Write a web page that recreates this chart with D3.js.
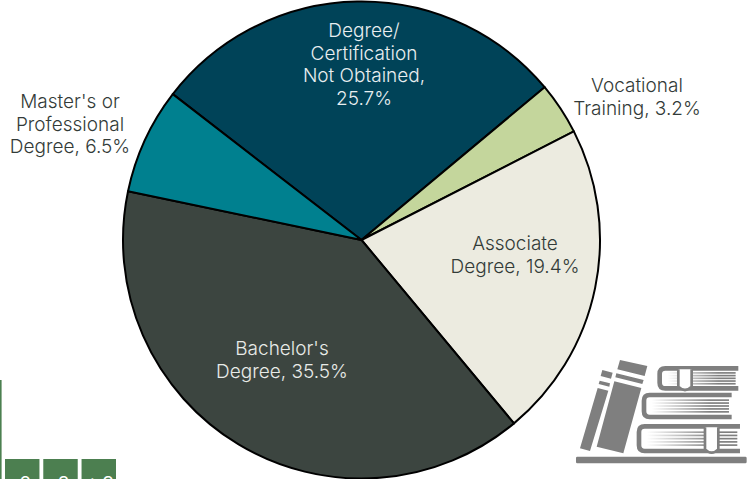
<!DOCTYPE html>
<html>
  <head>
    <meta charset="utf-8" />
    <style>
      body {
        margin: 0;
        background: #fff;
      }
      svg {
        display: block;
      }
      text {
        font-family: "Inter", "Lato", sans-serif;
        font-weight: 300;
        font-size: 19px;
      }
    </style>
    <script src="https://d3js.org/d3.v7.min.js"></script>
  </head>
  <body>
    <div id="chart"></div>
    <script type="text/javascript">
      // chart values, clockwise from the top slice
      var categories = [
        "Degree/ Certification Not Obtained",
        "Vocational Training",
        "Associate Degree",
        "Bachelor's Degree",
        "Master's or Professional Degree",
      ];
      var shares = [25.7, 3.2, 19.4, 35.5, 6.5];
      var labelLines = [
        ["Degree/", "Certification", "Not Obtained,", "25.7%"],
        ["Vocational", "Training, 3.2%"],
        ["Associate", "Degree, 19.4%"],
        ["Bachelor's", "Degree, 35.5%"],
        ["Master's or", "Professional", "Degree, 6.5%"],
      ];
      var sliceColors = ["#004358", "#c4d69c", "#ecebe0", "#3c4540", "#00808f"];
      var labelColors = ["#e8eef0", "#333b38", "#333b38", "#e8ebe8", "#333b38"];

      // label centres, x and first baseline
      var labelAnchors = [
        [364, 37],
        [637, 92],
        [515, 250],
        [282, 355],
        [70, 108],
      ];
      var lineHeight = 22.6;

      var w = 756;
      var h = 479;
      var cx = 361.5;
      var cy = 240;
      var r = 238.5;

      var svg = d3
        .select("#chart")
        .append("svg")
        .attr("width", w)
        .attr("height", h);

      // bits of the next slide's table that stick out at the bottom left
      var stubLabels = ["2", "3", ">3"];
      var stubX = d3.scaleBand().domain(stubLabels).range([5, 116]).paddingInner(0.1);
      svg
        .append("rect")
        .attr("x", 0)
        .attr("y", 380)
        .attr("width", 1.6)
        .attr("height", 99)
        .attr("fill", "#4c8050");
      svg
        .selectAll("rect.stub")
        .data(stubLabels)
        .enter()
        .append("rect")
        .attr("class", "stub")
        .attr("x", function (d) {
          return stubX(d);
        })
        .attr("y", 459)
        .attr("width", stubX.bandwidth())
        .attr("height", 20)
        .attr("fill", "#4c7f50");
      svg
        .selectAll("text.stub")
        .data(stubLabels)
        .enter()
        .append("text")
        .attr("class", "stub")
        .attr("x", function (d) {
          return stubX(d) + stubX.bandwidth() / 2 + 3;
        })
        .attr("y", 490)
        .attr("text-anchor", "middle")
        .attr("fill", "#fff")
        .style("font-weight", 400)
        .text(function (d) {
          return d;
        });

      // pie, the slices are normalised so they fill the circle
      var pie = d3
        .pie()
        .sort(null)
        .startAngle((-52.3 * Math.PI) / 180)
        .endAngle((307.7 * Math.PI) / 180);
      var arc = d3.arc().innerRadius(0).outerRadius(r);

      svg
        .append("g")
        .attr("transform", "translate(" + cx + "," + cy + ")")
        .selectAll("path")
        .data(pie(shares))
        .enter()
        .append("path")
        .attr("d", arc)
        .attr("fill", function (d, i) {
          return sliceColors[i];
        })
        .attr("stroke", "#000")
        .attr("stroke-width", 2)
        .attr("stroke-linejoin", "round");

      var labels = svg
        .selectAll("text.label")
        .data(categories)
        .enter()
        .append("text")
        .attr("class", "label")
        .attr("text-anchor", "middle")
        .attr("fill", function (d, i) {
          return labelColors[i];
        });

      labels
        .selectAll("tspan")
        .data(function (d, i) {
          return labelLines[i].map(function (line, n) {
            return {
              text: line,
              x: labelAnchors[i][0],
              y: labelAnchors[i][1] + n * lineHeight,
            };
          });
        })
        .enter()
        .append("tspan")
        .attr("x", function (d) {
          return d.x;
        })
        .attr("y", function (d) {
          return d.y;
        })
        .text(function (d) {
          return d.text;
        });

      // book icon
      var gray = "#7f7f7f";
      var icon = svg
        .append("g")
        .attr("transform", "translate(570,350) scale(0.3333)");

      var fade = svg.append("defs").append("linearGradient").attr("id", "fade");
      fade.append("stop").attr("offset", "0").attr("stop-color", "#fff");
      fade.append("stop").attr("offset", "0.75").attr("stop-color", gray);

      icon
        .append("rect")
        .attr("x", 18)
        .attr("y", 320)
        .attr("width", 512)
        .attr("height", 20)
        .attr("rx", 4)
        .attr("fill", gray);

      // leaning books
      icon
        .append("path")
        .attr("fill", gray)
        .attr(
          "d",
          "M97,60L128,68L123,86L92,78ZM89,92L120,100L118,110L86,102ZM83,114L115,122L60,303L30,295Z" +
            "M150,30L232,48L224,78L142,58ZM139,70L221,90L217,102L136,82ZM133,94L214,114L160,310L80,290Z"
        );

      // stacked books: [x, y, width, height, bookmark x]
      var stack = [
        [262, 48, 243, 74, 325],
        [215, 128, 270, 80, null],
        [200, 222, 310, 88, 405],
      ];
      stack.forEach(function (b) {
        var x = b[0],
          y = b[1],
          bw = b[2],
          bh = b[3];
        // page lines
        [0.28, 0.39, 0.5, 0.61, 0.72].forEach(function (f) {
          icon
            .append("rect")
            .attr("x", x + 30)
            .attr("y", y + bh * f - 2.5)
            .attr("width", bw - 38)
            .attr("height", 5)
            .attr("fill", "url(#fade)");
        });
        icon
          .append("path")
          .attr("fill", "none")
          .attr("stroke", gray)
          .attr("stroke-width", 14)
          .attr(
            "d",
            "M" + (x + bw) + "," + (y + 7) + "H" + (x + 24) +
              "Q" + (x + 7) + "," + (y + 7) + " " + (x + 7) + "," + (y + 24) +
              "V" + (y + bh - 24) +
              "Q" + (x + 7) + "," + (y + bh - 7) + " " + (x + 24) + "," + (y + bh - 7) +
              "H" + (x + bw)
          );
        if (b[4] !== null) {
          icon
            .append("path")
            .attr("fill", "#fff")
            .attr("stroke", gray)
            .attr("stroke-width", 8)
            .attr(
              "d",
              "M" + b[4] + "," + (y + 10) + "V" + (y + bh - 12) +
                "Q" + (b[4] + 20) + "," + (y + bh + 8) + " " + (b[4] + 40) + "," + (y + bh - 12) +
                "V" + (y + 10)
            );
        }
      });
    </script>
  </body>
</html>
